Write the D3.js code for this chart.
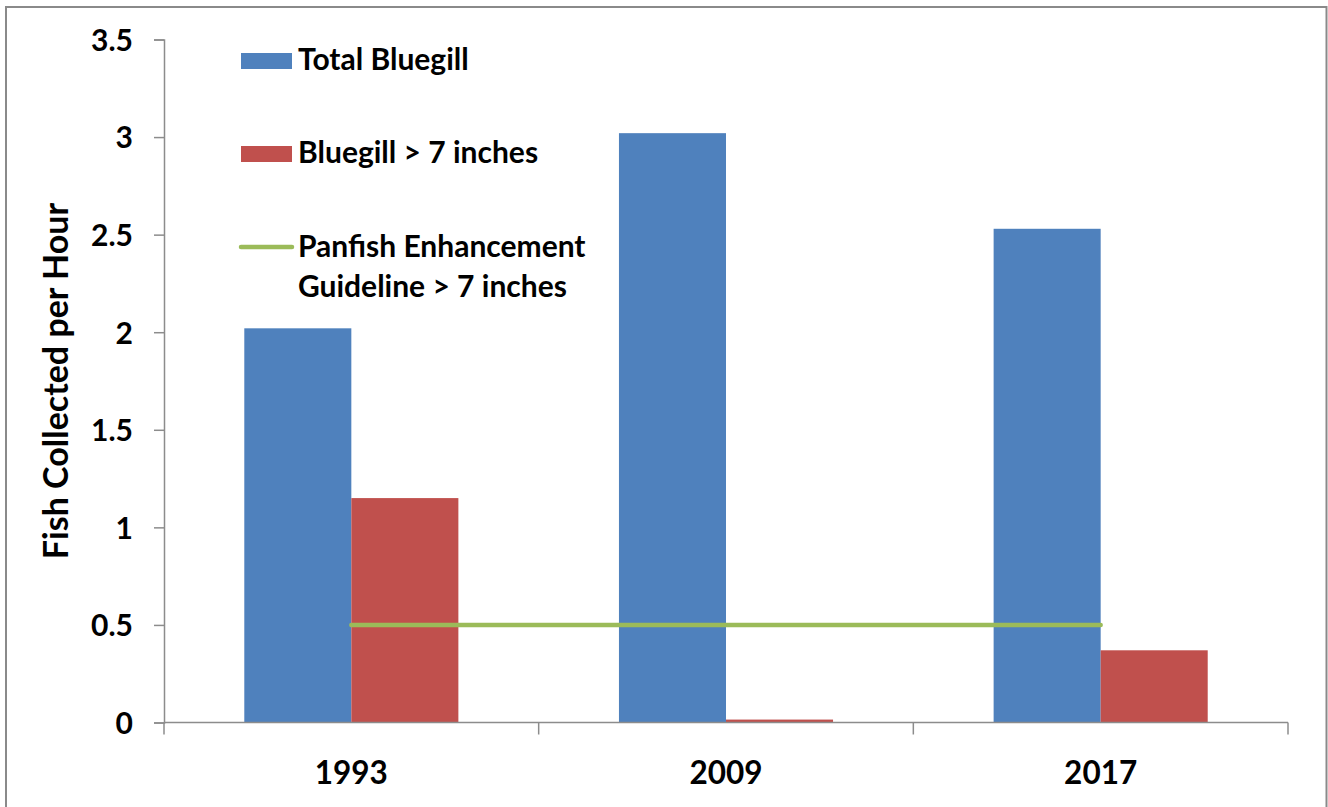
<!DOCTYPE html>
<html>
<head>
<meta charset="utf-8">
<script src="https://cdn.jsdelivr.net/npm/d3@7"></script>
<style>
  html, body { margin: 0; padding: 0; background: #fff; }
  svg { display: block; }
  text { font-family: Lato, "Open Sans", sans-serif; font-weight: bold; fill: #000; }
</style>
</head>
<body>
<svg id="chart" width="1328" height="807"></svg>
<script>
// ---- data ----
const categories = ["1993", "2009", "2017"];
const seriesNames = ["Total Bluegill", "Bluegill > 7 inches"];
const totalBluegill = [2.02, 3.02, 2.53];
const bluegillOver7 = [1.15, 0.015, 0.37];
const guideline = [0.5, 0.5, 0.5];
const guidelineName = ["Panfish Enhancement", "Guideline > 7 inches"];
const yTicks = [0, 0.5, 1, 1.5, 2, 2.5, 3, 3.5];
const yLabel = "Fish Collected per Hour";

const colors = { "Total Bluegill": "#4F81BD", "Bluegill > 7 inches": "#C0504D", guide: "#9BBB59" };
const axisColor = "#8c8c8c";

const svg = d3.select("#chart");

// outer border (chart area frame)
svg.append("path")
  .attr("d", "M6,812 L6,7 L1326.5,7 L1326.5,812")
  .attr("fill", "none").attr("stroke", "#8a8a8a").attr("stroke-width", 2);

const plot = { left: 164, right: 1288, top: 39.5, bottom: 722.5 };

const y = d3.scaleLinear().domain([0, 3.5]).range([plot.bottom, plot.top]);
const x = d3.scaleBand().domain(categories).range([plot.left, plot.right]).padding(0);
const bw = x.bandwidth();
const xs = d3.scaleBand().domain(seriesNames).range([bw * 0.2143, bw * 0.7857]).padding(0);

const rows = categories.map((c, i) => ({ cat: c, values: [totalBluegill[i], bluegillOver7[i]] }));

// bars
const g = svg.append("g");
rows.forEach(r => {
  seriesNames.forEach((s, j) => {
    g.append("rect")
      .attr("x", x(r.cat) + xs(s))
      .attr("y", y(r.values[j]))
      .attr("width", xs.bandwidth())
      .attr("height", y(0) - y(r.values[j]))
      .attr("fill", colors[s]);
  });
});

// y axis
const yAxis = d3.axisLeft(y).tickValues(yTicks).tickSize(10).tickPadding(0).tickFormat(d => d3.format("")(d));
const yg = svg.append("g").attr("transform", `translate(${plot.left},0)`).call(yAxis);
yg.select(".domain").attr("stroke", axisColor).attr("stroke-width", 1.5);
yg.selectAll(".tick line").attr("stroke", axisColor).attr("stroke-width", 1.5);
yg.selectAll(".tick text")
  .attr("x", -31).attr("dy", "0.36em")
  .style("font-family", "Lato, sans-serif").style("font-weight", "bold")
  .style("font-size", "30px").attr("fill", "#000");

// x axis with ticks at category boundaries
const xg = svg.append("g").attr("transform", `translate(0,${plot.bottom})`);
xg.append("line").attr("x1", plot.left).attr("x2", plot.right).attr("y1", 0).attr("y2", 0)
  .attr("stroke", axisColor).attr("stroke-width", 1.5);
const bounds = categories.map(c => x(c)).concat([x(categories[categories.length - 1]) + bw]);
xg.selectAll("line.tk").data(bounds).join("line").attr("class", "tk")
  .attr("x1", d => d).attr("x2", d => d).attr("y1", 0).attr("y2", 12)
  .attr("stroke", axisColor).attr("stroke-width", 1.5);
xg.selectAll("text.cat").data(categories).join("text").attr("class", "cat")
  .attr("x", d => x(d) + bw / 2).attr("y", 61)
  .attr("text-anchor", "middle")
  .style("font-size", "31.5px")
  .text(d => d);

// guideline line
const line = d3.line().x((d, i) => x(categories[i]) + bw / 2).y(d => y(d));
svg.append("path").datum(guideline)
  .attr("d", line).attr("fill", "none")
  .attr("stroke", colors.guide).attr("stroke-width", 4.5).attr("stroke-linecap", "round");

// y axis title
svg.append("text")
  .attr("transform", `translate(68,381) rotate(-90)`)
  .attr("text-anchor", "middle")
  .style("font-size", "34px")
  .text(yLabel);

// legend
const lg = svg.append("g");
lg.append("rect").attr("x", 241).attr("y", 53).attr("width", 51).attr("height", 16).attr("fill", colors["Total Bluegill"]);
lg.append("text").attr("x", 298).attr("y", 70).style("font-size", "30px").text(seriesNames[0]);
lg.append("rect").attr("x", 241).attr("y", 146).attr("width", 51).attr("height", 16).attr("fill", colors["Bluegill > 7 inches"]);
lg.append("text").attr("x", 298).attr("y", 163).style("font-size", "30px").text(seriesNames[1]);
lg.append("line").attr("x1", 241).attr("x2", 292).attr("y1", 247).attr("y2", 247)
  .attr("stroke", colors.guide).attr("stroke-width", 4.5).attr("stroke-linecap", "round");
lg.append("text").attr("x", 298).attr("y", 257).style("font-size", "30px").text(guidelineName[0]);
lg.append("text").attr("x", 298).attr("y", 297).style("font-size", "30px").text(guidelineName[1]);
</script>
</body>
</html>
